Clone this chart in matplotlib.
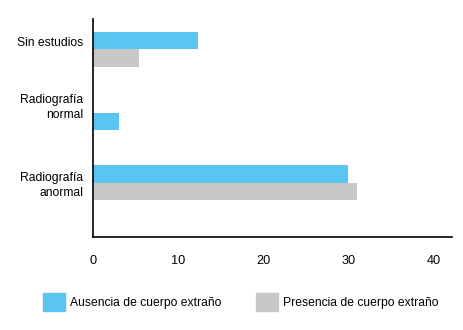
import matplotlib.pyplot as plt
from matplotlib.patches import Patch

categories = ['Sin estudios', 'Radiografía\nnormal', 'Radiografía\nanormal']
ausencia = [12.3, 3.0, 30.0]
presencia = [5.4, 0.0, 31.0]
series_names = ['Ausencia de cuerpo extraño', 'Presencia de cuerpo extraño']
xticks = [0, 10, 20, 30, 40]

# layout: group centres / label rows measured in pixel rows of the original
group_pos = [49, 130.3, 182.7]
label_pos = [42, 105, 183]
bar_h = 17.5

BLUE = '#5bc5f2'
GRAY = '#c8c8c8'
FS = 8.7

plt.rcParams['font.family'] = ['Liberation Sans', 'DejaVu Sans']

fig = plt.figure(figsize=(4.64, 3.30), dpi=100)
ax = fig.add_axes([93 / 464, 1 - 237 / 330, (452 - 93) / 464, (237 - 19) / 330])

ax.barh([p - bar_h / 2 for p in group_pos], ausencia, height=bar_h, color=BLUE)
ax.barh([p + bar_h / 2 for p in group_pos], presencia, height=bar_h, color=GRAY)

ax.set_ylim(237, 19)
ax.set_xlim(0, 359 / 8.515)
ax.set_yticks(label_pos)
ax.set_yticklabels(categories, fontsize=FS, ha='right', linespacing=1.3)
ax.set_xticks(xticks)
ax.set_xticklabels([str(t) for t in xticks], fontsize=FS + 0.5)
ax.tick_params(length=0, pad=7)
ax.tick_params(axis='x', pad=13)

for s in ['top', 'right']:
    ax.spines[s].set_visible(False)
for s in ['left', 'bottom']:
    ax.spines[s].set_linewidth(1.2)
    ax.spines[s].set_color('black')

handles = [Patch(color=BLUE), Patch(color=GRAY)]
fig.legend(handles, series_names, loc='center left', bbox_to_anchor=(43 / 464, 1 - 302 / 330),
           ncol=2, frameon=False, fontsize=FS, handlelength=1.85, handleheight=2.0,
           handletextpad=0.35, columnspacing=2.9, borderaxespad=0, borderpad=0)

fig.savefig('out.png', dpi=100)
